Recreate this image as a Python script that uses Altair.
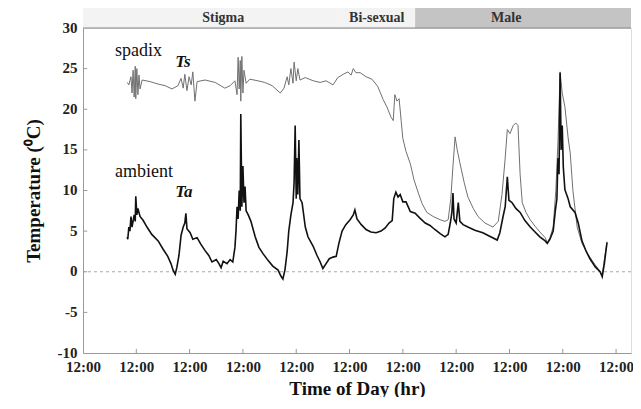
import altair as alt
import pandas as pd

# Spadix temperature Ts (days since first 12:00, degC)
ts_day = [0.83, 0.86, 0.90, 0.92, 0.94, 0.96, 0.98, 0.99, 1.01, 1.03, 1.05, 1.07, 1.11, 1.26, 1.41, 1.54,
          1.67, 1.78, 1.84, 1.88, 1.91, 1.95, 1.99, 2.03, 2.06, 2.10, 2.14, 2.29, 2.48, 2.66, 2.76, 2.85,
          2.89, 2.91, 2.93, 2.95, 2.96, 2.98, 3.00, 3.02, 3.06, 3.13, 3.28, 3.41, 3.55, 3.70, 3.77, 3.83,
          3.86, 3.90, 3.94, 3.96, 4.00, 4.03, 4.07, 4.17, 4.32, 4.45, 4.56, 4.69, 4.78, 4.88, 4.97, 5.03,
          5.07, 5.12, 5.20, 5.31, 5.42, 5.53, 5.63, 5.70, 5.78, 5.82, 5.85, 5.89, 5.93, 5.97, 6.00, 6.06,
          6.14, 6.21, 6.29, 6.36, 6.45, 6.57, 6.70, 6.79, 6.85, 6.90, 6.94, 6.98, 7.02, 7.07, 7.15, 7.22,
          7.32, 7.41, 7.54, 7.69, 7.79, 7.86, 7.92, 7.96, 8.01, 8.07, 8.12, 8.16, 8.20, 8.24, 8.31, 8.39,
          8.48, 8.57, 8.67, 8.71, 8.76, 8.82, 8.87, 8.91, 8.95, 8.99, 9.04, 9.10, 9.14, 9.19, 9.27, 9.36,
          9.46, 9.57, 9.66, 9.74, 9.78, 9.83]
ts_temp = [23.3, 23.0, 24.0, 22.0, 24.8, 21.5, 25.3, 21.3, 25.0, 21.8, 24.2, 22.5, 23.6, 23.4, 23.1, 22.9,
           22.5, 22.9, 23.8, 22.6, 24.3, 22.3, 24.0, 23.0, 24.6, 21.0, 23.4, 23.6, 23.3, 22.6, 22.9, 23.5,
           21.8, 26.4, 22.5, 26.0, 21.0, 26.5, 22.0, 24.8, 23.2, 23.7, 23.5, 23.3, 22.9, 22.0, 22.6, 24.0,
           23.0, 25.0, 23.2, 25.8, 23.5, 25.0, 23.6, 23.9, 23.5, 23.3, 23.5, 23.0, 23.9, 24.3, 24.6, 24.2,
           25.0, 24.5, 24.5, 24.0, 23.7, 22.8, 21.2, 20.3, 19.0, 18.6, 21.8, 21.0, 21.3, 18.5, 16.4, 14.8,
           13.3, 11.3, 9.7, 8.4, 7.3, 6.8, 6.4, 6.2, 6.4, 9.0, 13.0, 16.6, 15.0, 13.4, 11.0, 9.2,
           7.8, 6.8, 6.0, 5.5, 6.2, 9.5, 14.0, 17.5, 17.0, 18.0, 18.3, 18.0, 12.0, 8.5, 7.3, 6.4,
           5.6, 4.9, 4.2, 3.6, 4.2, 5.5, 10.0, 16.0, 24.6, 22.0, 20.3, 16.5, 14.6, 10.0, 5.5, 3.5,
           2.3, 1.2, 0.4, -0.4, 1.5, 3.7]

# Ambient temperature Ta
ta_day = [0.83, 0.84, 0.86, 0.88, 0.90, 0.92, 0.96, 0.98, 0.99, 1.01, 1.03, 1.07, 1.13, 1.20, 1.29, 1.41,
          1.50, 1.59, 1.65, 1.69, 1.73, 1.76, 1.80, 1.84, 1.88, 1.91, 1.93, 1.95, 2.01, 2.06, 2.14, 2.21,
          2.29, 2.36, 2.42, 2.50, 2.55, 2.59, 2.63, 2.70, 2.76, 2.81, 2.85, 2.87, 2.89, 2.91, 2.93, 2.95,
          2.96, 2.98, 3.00, 3.02, 3.04, 3.06, 3.10, 3.15, 3.23, 3.30, 3.38, 3.47, 3.56, 3.66, 3.71, 3.75,
          3.79, 3.83, 3.86, 3.90, 3.94, 3.96, 3.98, 4.00, 4.01, 4.03, 4.05, 4.07, 4.11, 4.17, 4.22, 4.32,
          4.39, 4.45, 4.50, 4.56, 4.62, 4.69, 4.75, 4.80, 4.86, 4.93, 5.01, 5.07, 5.10, 5.14, 5.22, 5.31,
          5.40, 5.50, 5.59, 5.67, 5.74, 5.80, 5.83, 5.87, 5.91, 5.95, 6.00, 6.06, 6.14, 6.23, 6.32, 6.42,
          6.51, 6.60, 6.70, 6.79, 6.85, 6.89, 6.92, 6.94, 6.96, 7.00, 7.04, 7.07, 7.13, 7.22, 7.35, 7.50,
          7.62, 7.77, 7.82, 7.88, 7.92, 7.96, 7.99, 8.05, 8.12, 8.20, 8.29, 8.39, 8.48, 8.57, 8.67, 8.71,
          8.76, 8.82, 8.86, 8.89, 8.91, 8.93, 8.95, 8.97, 8.99, 9.01, 9.04, 9.10, 9.14, 9.23, 9.29, 9.36,
          9.44, 9.51, 9.61, 9.70, 9.74, 9.78, 9.83]
ta_temp = [4.3, 4.0, 5.5, 5.0, 6.8, 5.5, 7.0, 6.2, 9.3, 7.0, 7.8, 6.8, 6.3, 5.5, 4.6, 3.8,
           2.8, 1.9, 1.0, 0.2, -0.3, 0.5, 2.0, 4.5, 5.5, 6.0, 7.2, 5.3, 4.8, 4.0, 4.2, 3.4,
           2.6, 2.0, 1.2, 1.5, 1.0, 0.5, 1.3, 1.0, 1.5, 1.2, 3.0, 5.0, 8.0, 6.5, 10.0, 7.5,
           19.4, 8.0, 13.0, 8.5, 10.5, 7.5, 7.0, 6.2, 4.3, 3.0, 2.2, 1.4, 0.7, 0.2, -0.5, -0.9,
           0.3, 2.5, 5.0, 7.0, 8.5, 11.0, 18.0, 9.0, 14.0, 9.5, 16.2, 9.0, 8.5, 5.5, 4.3, 3.1,
           2.0, 1.2, 0.4, 1.0, 1.6, 1.8, 1.9, 3.5, 5.0, 5.8, 6.4, 7.0, 7.6, 6.5, 5.8, 5.2,
           4.9, 4.8, 5.0, 5.4, 6.0, 6.3, 9.0, 9.8, 9.2, 9.5, 8.6, 8.6, 7.4, 7.2, 6.6, 6.0,
           5.7, 5.2, 4.7, 4.3, 4.6, 6.0, 7.3, 9.7, 6.5, 6.0, 8.5, 6.2, 5.8, 5.5, 5.1, 4.8,
           4.4, 3.9, 4.8, 6.8, 8.0, 11.7, 8.8, 8.5, 7.8, 7.3, 6.3, 5.5, 4.9, 4.3, 3.8, 3.5,
           4.0, 5.0, 7.5, 9.0, 14.0, 12.0, 24.5, 15.0, 18.0, 12.9, 10.1, 9.0, 8.0, 7.3, 6.0, 3.8,
           2.5, 1.6, 0.6, 0.0, -0.6, 1.0, 3.6]

X_MAX = 10.28

# Flowering phases (days)
phase_names = ["Stigma", "Bi-sexual", "Male"]
phase_start = [0.0, 4.85, 6.23]
phase_end = [4.85, 6.23, X_MAX]
phase_label_x = [2.63, 5.51, 7.94]
phase_colors = ["#f3f3f3", "#f3f3f3", "#c4c4c4"]

# Curve annotations
ann_text = ["spadix", "ambient"]
ann_x = [0.60, 0.60]
ann_y = [26.5, 11.7]
sym_text = ["Ts", "Ta"]
sym_x = [1.73, 1.73]
sym_y = [25.2, 9.2]

tick_days = list(range(0, 11))
y_ticks = [-10, -5, 0, 5, 10, 15, 20, 25, 30]

ts_df = pd.DataFrame({"day": ts_day, "temp": ts_temp})
ta_df = pd.DataFrame({"day": ta_day, "temp": ta_temp})
ph_df = pd.DataFrame({"phase": phase_names, "start": phase_start, "end": phase_end,
                      "lx": phase_label_x, "color": phase_colors})
ann_df = pd.DataFrame({"t": ann_text, "x": ann_x, "y": ann_y})
sym_df = pd.DataFrame({"t": sym_text, "x": sym_x, "y": sym_y})
xt_df = pd.DataFrame({"d": tick_days[1:]})
yt_df = pd.DataFrame({"v": y_ticks[1:-1]})

FONT = "Liberation Serif"

xscale = alt.Scale(domain=[0, X_MAX], nice=False, zero=False)
yscale = alt.Scale(domain=[-10, 30], nice=False)

xaxis = alt.Axis(values=tick_days, labelExpr="'12:00'", title="Time of Day (hr)", grid=False,
                 ticks=False, labelFlush=False,
                 labelFont=FONT, labelFontWeight="bold", labelFontSize=15, labelColor="#222",
                 titleFont=FONT, titleFontWeight="bold", titleFontSize=19, titleColor="#111",
                 titlePadding=5, labelPadding=6, domainColor="#999")
yaxis = alt.Axis(values=y_ticks, labelExpr="'' + datum.value", title="Temperature (⁰C)", grid=False,
                 ticks=False, labelFlush=False, labelOffset=-1,
                 labelFont=FONT, labelFontWeight="bold", labelFontSize=15, labelColor="#222",
                 titleFont=FONT, titleFontWeight="bold", titleFontSize=19, titleColor="#111",
                 titlePadding=14, labelPadding=6, domainColor="#999")

base_x = alt.X("day:Q", scale=xscale, axis=xaxis)
base_y = alt.Y("temp:Q", scale=yscale, axis=yaxis)

zero = alt.Chart(pd.DataFrame({"z": [0]})).mark_rule(
    color="#aaa", strokeDash=[3, 3], strokeWidth=1
).encode(y=alt.Y("z:Q", scale=yscale))

# inward tick marks
xticks = alt.Chart(xt_df).mark_rule(color="#999").encode(
    x=alt.X("d:Q", scale=xscale), y=alt.datum(-10), y2=alt.datum(-9.5))
yticks = alt.Chart(yt_df).mark_rule(color="#999").encode(
    y=alt.Y("v:Q", scale=yscale), x=alt.datum(0), x2=alt.datum(0.08))

ts_line = alt.Chart(ts_df).mark_line(color="#707070", strokeWidth=1).encode(x=base_x, y=base_y)
ta_line = alt.Chart(ta_df).mark_line(color="#111", strokeWidth=1.6).encode(
    x=alt.X("day:Q", scale=xscale), y=alt.Y("temp:Q", scale=yscale))

bars = alt.Chart(ph_df).mark_rect().encode(
    x=alt.X("start:Q", scale=xscale), x2="end:Q",
    y=alt.value(-20), y2=alt.value(0),
    color=alt.Color("color:N", scale=None),
)
bar_text = alt.Chart(ph_df).mark_text(font=FONT, fontWeight="bold", fontSize=14, color="#333",
                                      baseline="middle").encode(
    x=alt.X("lx:Q", scale=xscale), y=alt.value(-10), text="phase:N")
top_line = alt.Chart(pd.DataFrame({"z": [30]})).mark_rule(color="#888", strokeWidth=1.2).encode(
    y=alt.Y("z:Q", scale=yscale))

ann = alt.Chart(ann_df).mark_text(font=FONT, fontSize=18, color="#111", align="left",
                                  baseline="alphabetic").encode(
    x=alt.X("x:Q", scale=xscale), y=alt.Y("y:Q", scale=yscale), text="t:N")
sym = alt.Chart(sym_df).mark_text(font=FONT, fontSize=17, fontWeight="bold", fontStyle="italic",
                                  color="#111", align="left", baseline="alphabetic").encode(
    x=alt.X("x:Q", scale=xscale), y=alt.Y("y:Q", scale=yscale), text="t:N")

chart = alt.layer(ts_line, zero, xticks, yticks, ta_line, bars, bar_text, top_line, ann, sym).properties(
    width=548, height=325,
    autosize=alt.AutoSizeParams(type="none"),
    padding={"left": 75, "top": 20, "right": 2, "bottom": 44},
).configure_view(stroke="#999", strokeWidth=1).configure(background="white")

chart.save("out.html", embed_options={"renderer": "svg", "actions": False})
